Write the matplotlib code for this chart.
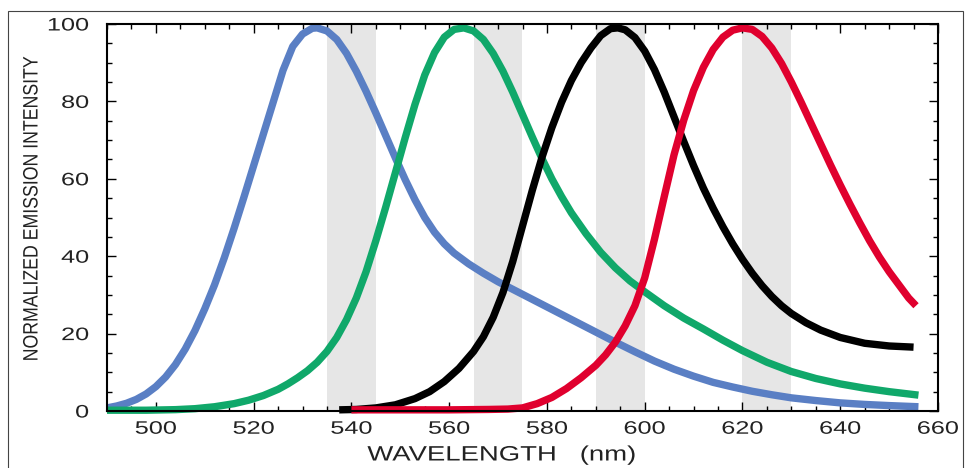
"""Normalized emission spectra of four dyes with filter bands shaded."""
import matplotlib
matplotlib.use("Agg")
import matplotlib.pyplot as plt
from matplotlib.patches import Rectangle
from matplotlib.patheffects import AbstractPathEffect
from matplotlib.ticker import MultipleLocator
from matplotlib.transforms import Affine2D

# --- data (wavelength in nm, normalized intensity) ---
blue_nm = [490, 492, 494, 496, 498, 500, 502, 504, 506, 508, 510, 512, 514, 516,
           518, 520, 522, 524, 526, 528, 530, 532, 533, 535, 537, 539, 541, 543,
           545, 547, 549, 551, 553, 555, 557, 559, 561, 564, 567, 570, 574, 578,
           582, 586, 590, 594, 598, 602, 606, 610, 614, 618, 622, 626, 630, 635,
           640, 645, 650, 656]
blue_int = [0.8, 1.3, 2.0, 3.0, 4.4, 6.3, 8.8, 12.0, 16.0, 20.8, 26.4, 32.6, 39.6, 47.2,
            55.2, 63.4, 71.6, 79.8, 88.0, 94.2, 97.4, 98.9, 99.0, 98.2, 96.0, 92.4, 87.8, 82.6,
            77.0, 71.2, 65.4, 59.8, 54.6, 50.0, 46.2, 43.2, 40.8, 38.0, 35.6, 33.4, 30.8, 28.2,
            25.6, 23.0, 20.4, 17.8, 15.3, 12.9, 10.8, 9.0, 7.4, 6.2, 5.1, 4.2, 3.4, 2.7,
            2.1, 1.7, 1.4, 1.1]

green_nm = [490, 498, 504, 508, 512, 516, 519, 522, 525, 527, 529, 531, 533, 535,
            537, 539, 541, 543, 545, 547, 549, 551, 553, 555, 557, 559, 561, 563,
            565, 567, 569, 571, 573, 575, 577, 579, 581, 583, 585, 588, 591, 594,
            597, 600, 604, 608, 612, 616, 620, 625, 630, 635, 640, 645, 650, 656]
green_int = [0.2, 0.2, 0.35, 0.6, 1.1, 1.9, 2.8, 4.0, 5.6, 7.0, 8.6, 10.4, 12.6, 15.4,
             19.0, 23.6, 29.2, 36.0, 44.0, 52.6, 61.6, 70.6, 79.2, 86.8, 92.6, 96.6, 98.6, 99.0,
             98.2, 96.0, 92.4, 87.8, 82.4, 76.6, 70.8, 65.2, 60.0, 55.4, 51.2, 45.8, 41.0, 37.0,
             33.6, 30.8, 27.2, 24.0, 21.2, 18.3, 15.6, 12.6, 10.2, 8.4, 7.0, 5.9, 5.0, 4.1]

black_nm = [537.5, 541, 545, 549, 553, 556, 559, 562, 565, 567, 569, 571, 573, 575,
            577, 579, 581, 583, 585, 587, 589, 591, 593, 594.5, 596, 598, 600, 602,
            604, 606, 608, 610, 612, 614, 616, 618, 620, 622, 624, 626, 628, 630,
            633, 636, 640, 645, 650, 655]
black_int = [0.3, 0.4, 0.8, 1.6, 3.2, 5.0, 7.6, 11.0, 15.4, 19.2, 24.2, 30.6, 38.6, 47.8,
             57.0, 65.6, 73.2, 79.8, 85.4, 90.0, 93.8, 97.0, 98.8, 99.0, 98.5, 96.5, 93.0, 88.2,
             82.4, 76.0, 69.6, 63.4, 57.6, 52.4, 47.6, 43.2, 39.2, 35.6, 32.4, 29.6, 27.2, 25.2,
             22.8, 20.9, 19.0, 17.5, 16.8, 16.5]

red_nm = [540, 560, 568, 572, 575, 578, 581, 584, 587, 590, 592, 594, 596, 598,
          600, 602, 604, 606, 608, 610, 612, 614, 616, 618, 620, 622, 624, 626,
          628, 630, 632, 634, 636, 638, 640, 642, 644, 646, 648, 650, 652, 654, 655.5]
red_int = [0.3, 0.3, 0.4, 0.5, 0.8, 1.9, 3.5, 5.8, 8.6, 11.8, 14.5, 17.8, 22.0, 27.2,
           34.4, 44.4, 55.4, 66.2, 75.2, 82.8, 88.8, 93.4, 96.6, 98.4, 99.0, 98.6, 96.8, 93.8,
           89.8, 85.0, 79.8, 74.4, 69.0, 63.6, 58.4, 53.4, 48.6, 44.0, 39.8, 36.0, 32.6, 29.2, 27.2]

filter_bands = [(535, 545), (565, 575), (590, 600), (620, 630)]

x_major = [500, 520, 540, 560, 580, 600, 620, 640, 660]
y_major = [0, 20, 40, 60, 80, 100]

W, H = 965, 468


class Stretch(AbstractPathEffect):
    """Scale glyphs along the text direction, keeping one edge (or centre) fixed."""

    def __init__(self, sx, anchor="center"):
        super().__init__()
        self.sx = sx
        self.anchor = anchor

    def draw_path(self, renderer, gc, tpath, affine, rgbFace=None):
        ext = tpath.get_extents()
        cx = {"left": ext.x0, "center": 0.5 * (ext.x0 + ext.x1), "right": ext.x1}[self.anchor]
        warp = Affine2D().translate(-cx, 0).scale(self.sx, 1).translate(cx, 0)
        renderer.draw_path(gc, tpath, warp + affine, rgbFace)


plt.rcParams["font.family"] = ["Liberation Sans", "DejaVu Sans"]

fig = plt.figure(figsize=(W / 100, H / 100), dpi=100)
ax = fig.add_axes([107 / W, 1 - 411 / H, (938 - 107) / W, (411 - 24) / H])

for lo, hi in filter_bands:
    ax.axvspan(lo, hi, color="#e6e6e6", lw=0, zorder=0)

series = [
    (blue_nm, blue_int, "#5a7fc4"),
    (green_nm, green_int, "#10a86a"),
    (black_nm, black_int, "#000000"),
    (red_nm, red_int, "#e0002e"),
]
for nm, val, col in series:
    ax.plot(nm, val, color=col, lw=5.3, solid_capstyle="butt",
            solid_joinstyle="round", clip_on=False, zorder=2)

ax.set_xlim(490, 660)
ax.set_ylim(0, 100)
ax.set_xticks(x_major)
ax.set_yticks(y_major)
ax.xaxis.set_minor_locator(MultipleLocator(5))
ax.yaxis.set_minor_locator(MultipleLocator(5))
ax.tick_params(which="both", direction="in", top=True, right=True,
               width=1.0, color="black", labelsize=13, labelcolor="#222222")
ax.tick_params(which="major", length=6.5)
ax.tick_params(which="minor", length=3.6)
ax.tick_params(axis="x", pad=7)
ax.tick_params(axis="y", pad=13)
for side in ax.spines.values():
    side.set_linewidth(1.5)
    side.set_zorder(3)

for lab in ax.get_xticklabels():
    lab.set_path_effects([Stretch(1.4, "center")])
for lab in ax.get_yticklabels():
    lab.set_path_effects([Stretch(1.4, "right")])

fig.text(502 / W, 1 - 455 / H, "WAVELENGTH   (nm)", fontsize=15, color="#222222",
         ha="center", va="center", path_effects=[Stretch(1.32, "center")])
fig.text(32 / W, 1 - 208 / H, "NORMALIZED EMISSION INTENSITY", fontsize=15,
         color="#222222", rotation=90, ha="center", va="center",
         path_effects=[Stretch(0.85, "center")])

# thin frame around the whole figure, open at the bottom edge
fig.add_artist(Rectangle((8 / W, -0.05), (963 - 8) / W, 1 - 11 / H + 0.05,
                         transform=fig.transFigure, fill=False,
                         edgecolor="#444444", lw=0.8))

fig.savefig("out.png", dpi=100)
plt.close(fig)
